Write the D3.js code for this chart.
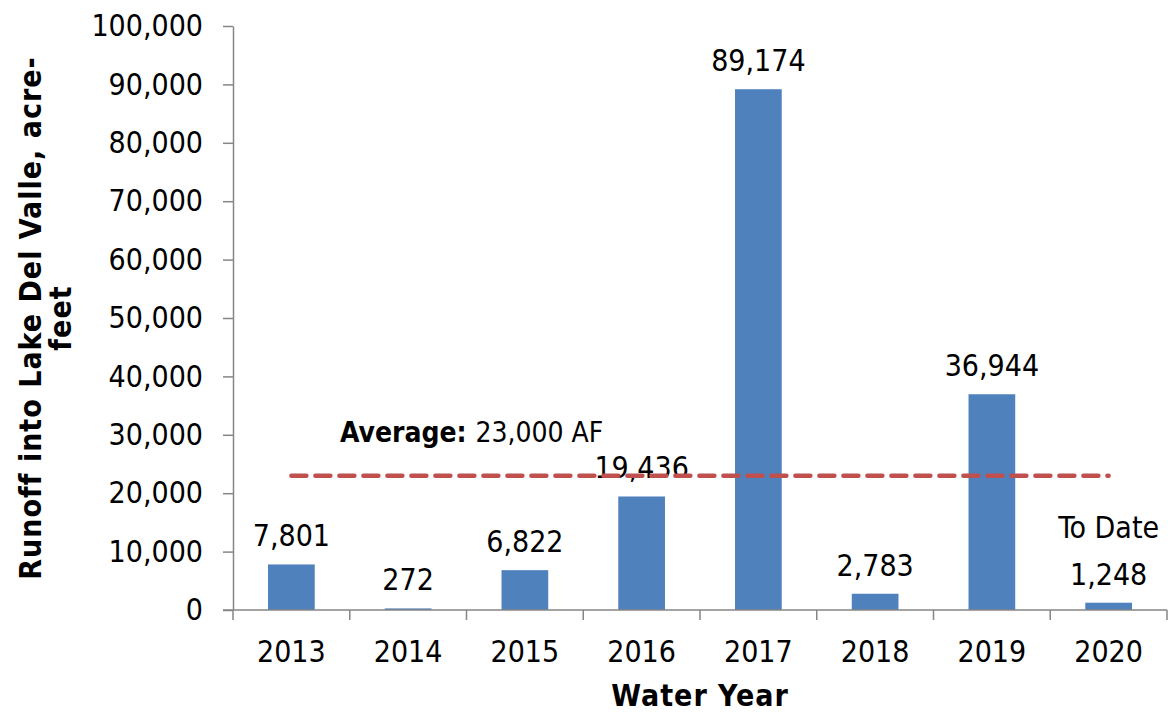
<!DOCTYPE html>
<html>
<head>
<meta charset="utf-8">
<script src="https://cdn.jsdelivr.net/npm/d3@7"></script>
<style>
  body { margin: 0; background: #fff; }
  svg text { font-family: Tahoma, "DejaVu Sans Condensed", "DejaVu Sans", sans-serif; fill: #000; }
</style>
</head>
<body>
<svg id="chart" width="1171" height="713"></svg>
<script>
// water years and runoff, acre-feet
const years = ["2013", "2014", "2015", "2016", "2017", "2018", "2019", "2020"];
const runoff = [7801, 272, 6822, 19436, 89174, 2783, 36944, 1248];
const yTicks = [0, 10000, 20000, 30000, 40000, 50000, 60000, 70000, 80000, 90000, 100000];
const averageRunoff = 23000;

const svg = d3.select("#chart");
const margin = {top: 26, right: 4, bottom: 103, left: 233};
const width = 1171 - margin.left - margin.right;
const height = 713 - margin.top - margin.bottom;
const axisColor = "#868686";
const labelSize = "30px";

const g = svg.append("g")
    .attr("transform", "translate(" + margin.left + "," + margin.top + ")");

const x = d3.scaleBand().domain(years).range([0, width]).paddingInner(0.6).paddingOuter(0.3);
const y = d3.scaleLinear().domain([0, 100000]).range([height, 0]);
const step = x.step();
const fmt = d3.format(",");

// bars
g.selectAll(".bar")
    .data(years)
    .join("rect")
    .attr("class", "bar")
    .attr("x", d => x(d))
    .attr("width", x.bandwidth())
    .attr("y", (d, i) => y(runoff[i]))
    .attr("height", (d, i) => height - y(runoff[i]))
    .style("fill", "#4F81BD");

// y axis
const yAxis = g.append("g")
    .call(d3.axisLeft(y).tickValues(yTicks).tickFormat(fmt).tickSize(10).tickSizeOuter(0).tickPadding(20));
yAxis.select(".domain").attr("stroke", axisColor).attr("stroke-width", 1.5);
yAxis.selectAll(".tick line").attr("stroke", axisColor).attr("stroke-width", 1.5);
yAxis.selectAll("text").style("font-size", labelSize);

// x axis: line plus ticks at category boundaries
g.append("line")
    .attr("x1", -10).attr("x2", width)
    .attr("y1", height).attr("y2", height)
    .attr("stroke", axisColor).attr("stroke-width", 1.5);
g.selectAll(".xtick")
    .data(d3.range(years.length + 1))
    .join("line")
    .attr("class", "xtick")
    .attr("x1", i => i * step).attr("x2", i => i * step)
    .attr("y1", height).attr("y2", height + 10)
    .attr("stroke", axisColor).attr("stroke-width", 1.5);
g.selectAll(".xlabel")
    .data(years)
    .join("text")
    .attr("class", "xlabel")
    .attr("x", d => x(d) + x.bandwidth() / 2)
    .attr("y", height + 52)
    .attr("text-anchor", "middle")
    .style("font-size", labelSize)
    .text(d => d);

// value labels
g.selectAll(".val")
    .data(years)
    .join("text")
    .attr("class", "val")
    .attr("x", d => x(d) + x.bandwidth() / 2)
    .attr("y", (d, i) => y(runoff[i]) - 18)
    .attr("text-anchor", "middle")
    .style("font-size", labelSize)
    .text((d, i) => fmt(runoff[i]));

g.append("text")
    .attr("x", x("2020") + x.bandwidth() / 2)
    .attr("y", y(runoff[7]) - 65)
    .attr("text-anchor", "middle")
    .style("font-size", labelSize)
    .text("To Date");

// average line
const avgY = y(averageRunoff);
g.append("line")
    .attr("x1", x(years[0]) + x.bandwidth() / 2)
    .attr("x2", x(years[years.length - 1]) + x.bandwidth() / 2)
    .attr("y1", avgY).attr("y2", avgY)
    .attr("stroke", "#C0504D")
    .attr("stroke-width", 4.5)
    .attr("stroke-linecap", "round")
    .attr("stroke-dasharray", "15 9");

const avgLabel = g.append("text")
    .attr("x", 340 - margin.left)
    .attr("y", avgY - 34)
    .style("font-size", "28px");
avgLabel.append("tspan").style("font-weight", "bold").text("Average: ");
avgLabel.append("tspan").text(fmt(averageRunoff) + " AF");

// axis titles
const yTitle = svg.append("text")
    .attr("transform", "translate(41," + (margin.top + height / 2) + ") rotate(-90)")
    .attr("text-anchor", "middle")
    .style("font-size", "30px")
    .style("font-weight", "bold")
    .style("letter-spacing", "1px");
yTitle.append("tspan").attr("x", 0).attr("dy", 0).text("Runoff into Lake Del Valle, acre-");
yTitle.append("tspan").attr("x", 0).attr("dy", 30).text("feet");

svg.append("text")
    .attr("x", margin.left + width / 2)
    .attr("y", 706)
    .attr("text-anchor", "middle")
    .style("font-size", "30px")
    .style("font-weight", "bold")
    .style("letter-spacing", "1px")
    .text("Water Year");
</script>
</body>
</html>
